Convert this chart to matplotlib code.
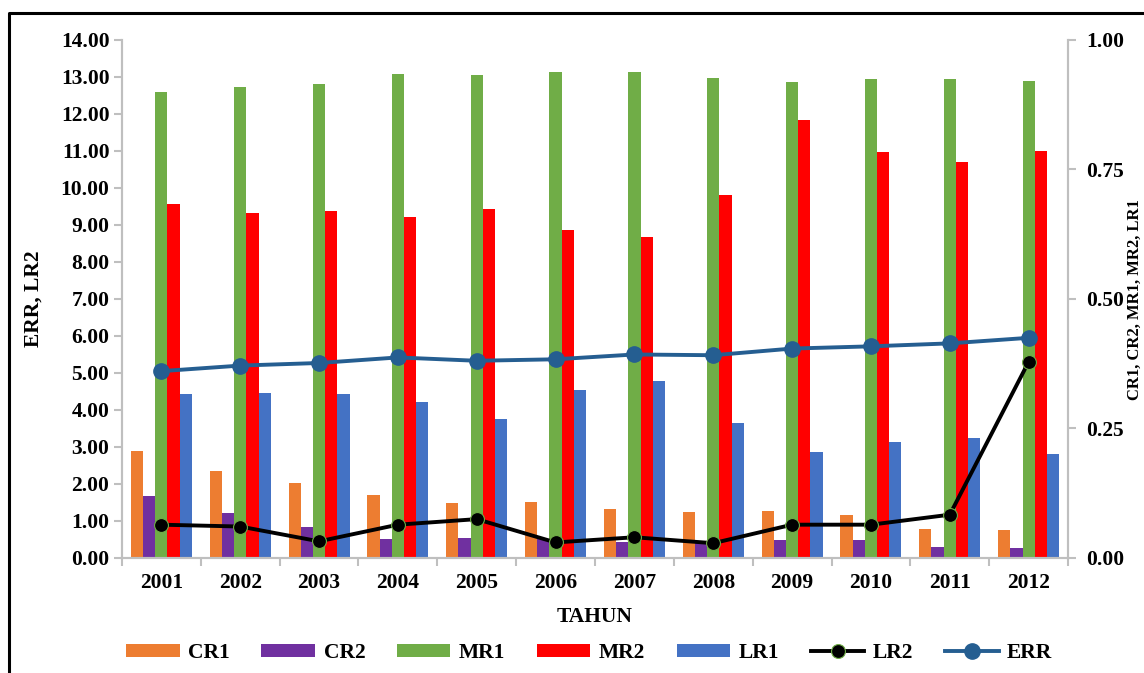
import matplotlib.pyplot as plt
from matplotlib.lines import Line2D
import numpy as np

plt.rcParams['font.family'] = ['Liberation Serif', 'DejaVu Serif']
plt.rcParams['font.weight'] = 'bold'

years = ['2001', '2002', '2003', '2004', '2005', '2006',
         '2007', '2008', '2009', '2010', '2011', '2012']

# bar series (right axis)
cr1 = [0.206, 0.168, 0.145, 0.121, 0.106, 0.109, 0.095, 0.089, 0.091, 0.083, 0.055, 0.054]
cr2 = [0.119, 0.086, 0.059, 0.037, 0.038, 0.036, 0.031, 0.029, 0.034, 0.034, 0.021, 0.019]
mr1 = [0.899, 0.909, 0.915, 0.934, 0.932, 0.939, 0.939, 0.927, 0.918, 0.924, 0.924, 0.921]
mr2 = [0.684, 0.666, 0.669, 0.658, 0.674, 0.634, 0.619, 0.700, 0.846, 0.783, 0.764, 0.786]
lr1 = [0.316, 0.318, 0.317, 0.301, 0.269, 0.324, 0.341, 0.261, 0.204, 0.223, 0.231, 0.200]

# line series (left axis)
lr2 = [0.90, 0.85, 0.45, 0.90, 1.05, 0.42, 0.56, 0.40, 0.90, 0.90, 1.17, 5.30]
err = [5.05, 5.20, 5.27, 5.42, 5.33, 5.37, 5.50, 5.48, 5.66, 5.72, 5.80, 5.95]

bar_names = ['CR1', 'CR2', 'MR1', 'MR2', 'LR1']
bar_data = [cr1, cr2, mr1, mr2, lr1]
bar_colors = ['#ED7D31', '#7030A0', '#70AD47', '#FF0000', '#4472C4']

fig = plt.figure(figsize=(11.44, 6.73), dpi=100)
ax = fig.add_axes([0.1066, 0.1709, 0.827, 0.7697])
ax2 = ax.twinx()

x = np.arange(len(years))
w = 0.155
for i, (name, vals, c) in enumerate(zip(bar_names, bar_data, bar_colors)):
    ax2.bar(x + (i - 2) * w, vals, w, color=c, label=name)

ax.plot(x, lr2, color='black', lw=2.8, marker='o', ms=10,
        mfc='black', mec='#70AD47', mew=0.8, label='LR2')
ax.plot(x, err, color='#255E91', lw=2.8, marker='o', ms=11,
        mfc='#255E91', mec='#255E91', label='ERR')

ax.set_zorder(ax2.get_zorder() + 1)
ax.patch.set_visible(False)

ax.set_xlim(-0.5, 11.5)
ax.set_ylim(0, 14)
ax2.set_ylim(0, 1)
ax.set_yticks(np.arange(0, 15, 1))
ax.set_yticklabels(['%.2f' % v for v in range(15)])
ax2.set_yticks([0, 0.25, 0.5, 0.75, 1.0])
ax2.set_yticklabels(['0.00', '0.25', '0.50', '0.75', '1.00'])
ax.set_xticks(x)
ax.set_xticklabels(years)
ax.set_xticks(np.arange(-0.5, 12, 1), minor=True)

fs = 15.5
gray = '#BFBFBF'
for a in (ax, ax2):
    for s in a.spines.values():
        s.set_color(gray)
        s.set_linewidth(1.5)
    a.spines['top'].set_visible(False)
ax.tick_params(axis='x', which='major', length=0, pad=11, labelsize=fs)
ax.tick_params(axis='x', which='minor', length=6, color=gray, width=1.5)
ax.tick_params(axis='y', length=6, color=gray, width=1.5, labelsize=fs, pad=3)
ax2.tick_params(axis='y', length=6, color=gray, width=1.5, labelsize=fs, pad=7)

ax.set_xlabel('TAHUN', fontsize=fs, fontweight='bold', labelpad=10)
ax.set_ylabel('ERR, LR2', fontsize=fs, fontweight='bold', labelpad=12)
# right axis title, kept inside the figure edge
fig.text(1143 / 1144, 1 - 300 / 673, 'CR1, CR2, MR1, MR2, LR1', rotation=90,
         ha='right', va='center', fontsize=12, fontweight='bold')

h1, l1 = ax2.get_legend_handles_labels()
h2, l2 = ax.get_legend_handles_labels()
fig.legend(h1 + h2, l1 + l2, loc='center', bbox_to_anchor=(0.515, 0.029),
           ncol=7, frameon=False, fontsize=fs, handlelength=2.5,
           handleheight=0.55, columnspacing=1.45, handletextpad=0.4)

# outer frame (left and top edges visible)
fig.add_artist(Line2D([9 / 1144, 9 / 1144, 1], [0, 1 - 13 / 673, 1 - 13 / 673],
                      transform=fig.transFigure, color='black', lw=2.2))

fig.savefig('out.png', dpi=100)
plt.close(fig)
